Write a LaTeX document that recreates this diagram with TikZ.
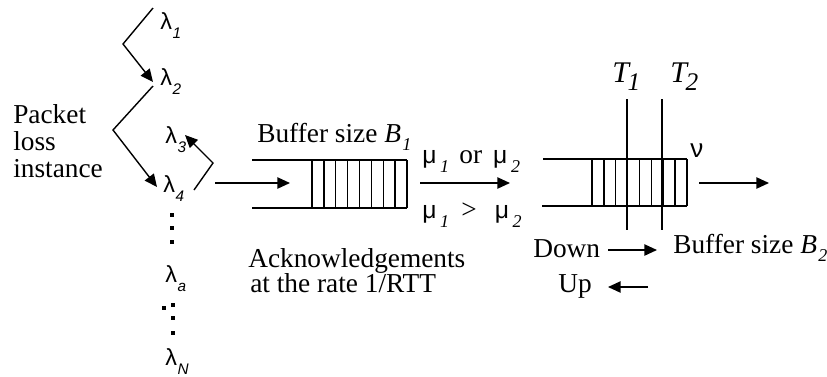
\documentclass[tikz,border=0pt]{standalone}
\usepackage{fontspec}
\setmainfont{Liberation Serif}
\newfontfamily\sansf{Liberation Sans}
\usetikzlibrary{arrows.meta}
\lineskiplimit=-30pt
\tikzset{
  ln/.style={line width=1.05pt},
  arr/.style={line width=1.05pt,-{Triangle[length=9.5pt,width=8.5pt]}},
  txt/.style={inner sep=0pt,anchor=base west,font=\fontsize{20.5}{20.25}\selectfont},
  lam/.style={inner sep=0pt,anchor=base west},
  sq/.style={fill,inner sep=0pt,minimum size=2.4pt,rectangle}
}
\newcommand\lamsym[1]{{\sansf\fontsize{17.5}{18}\selectfont λ}\kern0.6pt\raisebox{-7pt}{\sansf\itshape\fontsize{11.5}{12}\selectfont #1}}
\newcommand\musym[1]{{\sansf\fontsize{18.5}{20}\selectfont μ}\kern2.8pt\raisebox{-6.75pt}{\itshape\fontsize{13.5}{14}\selectfont #1}}
\begin{document}
\begin{tikzpicture}[x=0.75pt,y=-0.75pt]
\useasboundingbox (0,0) rectangle (827,376);

% left column labels (base anchor = last line)
\node[txt,align=left] (pli) at (13,177) {Packet\\loss\\instance};
\node[lam] (l1) at (160,29) {\lamsym{1}};
\node[lam] (l2) at (160,85) {\lamsym{2}};
\node[lam] (l3) at (165,143) {\lamsym{3}};
\node[lam] (l4) at (163,192) {\lamsym{4}};
\node[lam] (la) at (165,282) {\lamsym{a}};
\node[lam] (lN) at (165,365) {\lamsym{N}};

% dots
\foreach \y [count=\i] in {215,228,242} \node[sq] (d\i) at (172,\y) {};
\node[sq] (e0) at (164,308) {};
\foreach \y [count=\i] in {305,318,333} \node[sq] (e\i) at (173,\y) {};

% zigzags
\coordinate (z1a) at (153,8);
\coordinate (z1b) at (123,44);
\coordinate (z1c) at (153,82);
\draw[arr] (z1a) -- (z1b) -- (z1c);
\coordinate (z2a) at (153,86);
\coordinate (z2b) at (113,130);
\coordinate (z2c) at (157,187);
\draw[arr] (z2a) -- (z2b) -- (z2c);
\coordinate (z3a) at (194,190);
\coordinate (z3b) at (213,163);
\coordinate (z3c) at (185,135);
\draw[arr] (z3a) -- (z3b) -- (z3c);

% input arrow
\coordinate (in1) at (215,183);
\coordinate (in2) at (290,183);
\draw[arr] (in1) -- (in2);

% queue 1
\draw[ln] (252,160) -- (407,160);
\draw[ln] (252,208) -- (407,208);
\foreach \i in {0,...,8} \draw[ln] ({312+11.875*\i},160) -- ({312+11.875*\i},208);
\node[txt] (b1) at (257,142) {Buffer size \textit{B}\kern1pt\raisebox{-6pt}{\itshape\fontsize{13.5}{14}\selectfont 1}};

% middle arrow and labels
\coordinate (m1) at (420,183);
\coordinate (m2) at (510,183);
\draw[arr] (m1) -- (m2);
\node[txt] (mu1) at (422,163) {\musym{1}\hspace{7.6pt}or\hspace{8.3pt}\musym{2}};
\node[txt] (mu2) at (422,218) {\musym{1}\hspace{9.1pt}>\hspace{13.5pt}\musym{2}};
\node[txt,align=left,font=\fontsize{20.5}{18.75}\selectfont] (ack) at (248,292) {Acknowledgements\\\hspace{1.5pt}at the rate 1/RTT};

% queue 2
\draw[ln] (543,159) -- (687,159);
\draw[ln] (542,206) -- (687,206);
\foreach \i in {0,...,8} \draw[ln] ({592+11.875*\i},159) -- ({592+11.875*\i},206);
\draw[ln] (627,99) -- (627,230);
\draw[ln] (662,99) -- (662,230);
\node[txt] (t1) at (612,82) {\itshape\fontsize{22.5}{24}\selectfont T\kern-1pt\raisebox{-6pt}{\fontsize{19}{20}\selectfont 1}};
\node[txt] (t2) at (670,82) {\itshape\fontsize{22.5}{24}\selectfont T\kern-1pt\raisebox{-6pt}{\fontsize{19}{20}\selectfont 2}};
\node[lam] (nu) at (690,157) {\sansf\fontsize{19.5}{20}\selectfont ν};

\coordinate (o1) at (699,183);
\coordinate (o2) at (769,183);
\draw[arr] (o1) -- (o2);

\node[txt] (b2) at (673,253) {Buffer size \textit{B}\kern1pt\raisebox{-6pt}{\itshape\fontsize{13.5}{14}\selectfont 2}};
\node[txt] (down) at (533,257) {Down};
\node[txt] (up) at (558,292) {Up};
\coordinate (da) at (608,250);
\coordinate (db) at (657,250);
\draw[arr] (da) -- (db);
\coordinate (ua) at (648,287);
\coordinate (ub) at (608,287);
\draw[arr] (ua) -- (ub);
\end{tikzpicture}
\end{document}
